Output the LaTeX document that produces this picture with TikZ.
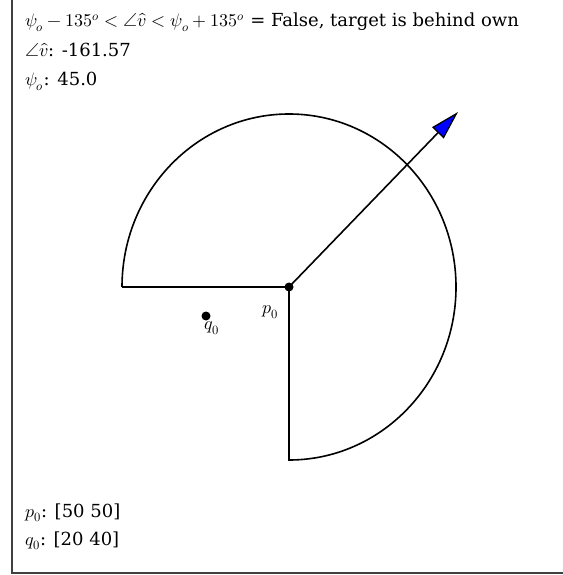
\documentclass[tikz,border=0pt]{standalone}
\usepackage{fontspec}
\setmainfont{DejaVu Serif}
\usepackage{unicode-math}
\setmathfont{Latin Modern Math}
\usetikzlibrary{arrows.meta}
\begin{document}
\begin{tikzpicture}[x=1pt,y=1pt,
  txt/.style={anchor=base west,inner sep=0pt,text height=13pt,text depth=4pt,font=\fontsize{18}{21}\selectfont},
  lbl/.style={inner sep=0pt,font=\fontsize{18}{21}\selectfont},
  sector/.style={line width=1.6pt,black},
  dot/.style={circle,fill=black,inner sep=0pt,minimum size=9pt}]
\useasboundingbox (0,0) rectangle (562,-575);
\draw[line width=1.5pt,black!75] (12,1) rectangle (575,-573);
% text
\node[txt] (t1) at (25,-27) {$\psi_o-135^o<\angle\hat{v}<\psi_o+135^o$ = False, target is behind own};
\node[txt] (t2) at (25,-57) {$\angle\hat{v}$: -161.57};
\node[txt] (t3) at (25,-86) {$\psi_o$: 45.0};
\node[txt] (t4) at (25,-517) {$p_0$: [50 50]};
\node[txt] (t5) at (25,-545) {$q_0$: [20 40]};
% sector
\coordinate (p0) at (289,-287);
\coordinate (left) at (122,-287);
\coordinate (bottom) at (289,-460);
\draw[sector] (left) -- (p0) -- (bottom) arc[start angle=-90, end angle=180, x radius=167, y radius=173];
% heading arrow
\coordinate (tip) at (458,-112);
\draw[line width=1.6pt,-{Triangle[length=29pt,width=16pt,fill=blue,line width=1.2pt]}] (p0) -- (tip);
\node[dot] (p0dot) at (p0) {};
\node[dot] (q0dot) at (206,-316) {};
\node[lbl] (p0lbl) at (270,-312) {$p_0$};
\node[lbl] (q0lbl) at (212,-328) {$q_0$};
\end{tikzpicture}
\end{document}
